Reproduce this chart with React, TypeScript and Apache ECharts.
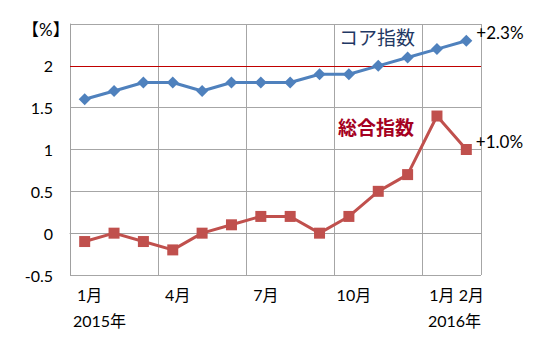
import React, { useEffect, useRef } from "react";
import * as echarts from "echarts";

const categories = ["1月", "2月", "3月", "4月", "5月", "6月", "7月", "8月", "9月", "10月", "11月", "12月", "1月", "2月"];
const shownLabelIdx = [0, 3, 6, 9, 12, 13];
const coreIndex = [1.6, 1.7, 1.8, 1.8, 1.7, 1.8, 1.8, 1.8, 1.9, 1.9, 2.0, 2.1, 2.2, 2.3];
const headlineIndex = [-0.1, 0.0, -0.1, -0.2, 0.0, 0.1, 0.2, 0.2, 0.0, 0.2, 0.5, 0.7, 1.4, 1.0];
const yTicks = { min: -0.5, max: 2.5, interval: 0.5 };
const targetLine = 2;
const coreName = "コア指数";
const headlineName = "総合指数";
const coreEnd = "+2.3%";
const headlineEnd = "+1.0%";
const years = ["2015年", "2016年"];
const unitLabel = "【%】";

const FONT = 'Lato, "Noto Sans CJK JP", sans-serif';

export default function App() {
  const ref = useRef<HTMLDivElement>(null);
  useEffect(() => {
    if (!ref.current) return;
    const chart = echarts.init(ref.current, undefined, { renderer: "svg" });
    const lastLabel = (vals: number[], text: string) =>
      vals.map((v, i) =>
        i === vals.length - 1
          ? {
              value: v,
              label: {
                show: true,
                position: "right",
                formatter: text,
                offset: [-1, -8],
                color: "#000",
                fontSize: 17,
                fontFamily: FONT,
              },
            }
          : v
      );
    chart.setOption({
      animation: false,
      backgroundColor: "#fff",
      grid: { left: 70, right: 63, top: 24, bottom: 63 },
      xAxis: {
        type: "category",
        data: categories,
        boundaryGap: true,
        axisLine: { show: true, lineStyle: { color: "#a0a0a0", width: 1 } },
        axisTick: { show: false },
        splitLine: {
          show: true,
          interval: (i: number) => i % 3 === 0,
          lineStyle: { color: "#a6a6a6", width: 1 },
        },
        axisLabel: {
          interval: 0,
          margin: 11,
          color: "#000",
          fontSize: 16,
          fontFamily: FONT,
          padding: [0, 0, 0, 10],
          formatter: (v: string, i: number) => (shownLabelIdx.includes(i) ? v : ""),
        },
      },
      yAxis: {
        type: "value",
        min: yTicks.min,
        max: yTicks.max,
        interval: yTicks.interval,
        axisLine: { show: true, lineStyle: { color: "#a0a0a0", width: 1 } },
        axisTick: { show: false },
        splitLine: { show: true, lineStyle: { color: "#a6a6a6", width: 1 } },
        axisLabel: {
          margin: 17,
          color: "#000",
          fontSize: 16,
          fontFamily: FONT,
          formatter: (v: number) => (v === 2.5 ? "" : String(v)),
        },
      },
      series: [
        {
          type: "line",
          name: headlineName,
          data: lastLabel(headlineIndex, headlineEnd),
          symbol: "rect",
          symbolSize: 11,
          lineStyle: { color: "#c0504d", width: 3 },
          itemStyle: { color: "#c0504d" },
          z: 3,
        },
        {
          type: "line",
          name: coreName,
          data: lastLabel(coreIndex, coreEnd),
          symbol: "diamond",
          symbolSize: 12,
          lineStyle: { color: "#4f81bd", width: 3 },
          itemStyle: { color: "#4f81bd" },
          z: 3,
          markLine: {
            silent: true,
            symbol: "none",
            label: { show: false },
            lineStyle: { color: "#c00000", width: 1, type: "solid" },
            data: [{ yAxis: targetLine }],
            z: 2,
          },
        },
      ],
      graphic: [
        {
          type: "text",
          left: 22,
          top: 21,
          style: { text: unitLabel, fontSize: 17, fontFamily: FONT, fill: "#000" },
        },
        {
          type: "text",
          left: 339,
          top: 28,
          style: { text: coreName, fontSize: 19, fontFamily: FONT, fill: "#1f3864" },
        },
        {
          type: "text",
          left: 338,
          top: 118,
          style: { text: headlineName, fontSize: 19, fontWeight: "bold", fontFamily: FONT, fill: "#a50021" },
        },
        {
          type: "text",
          left: 73,
          top: 312,
          style: { text: years[0], fontSize: 16, fontFamily: FONT, fill: "#000" },
        },
        {
          type: "text",
          left: 428,
          top: 312,
          style: { text: years[1], fontSize: 16, fontFamily: FONT, fill: "#000" },
        },
      ],
    });
    return () => chart.dispose();
  }, []);
  return (
    <div
      ref={ref}
      style={{ position: "absolute", left: 0, top: 0, width: 544, height: 338, background: "#fff" }}
    />
  );
}
